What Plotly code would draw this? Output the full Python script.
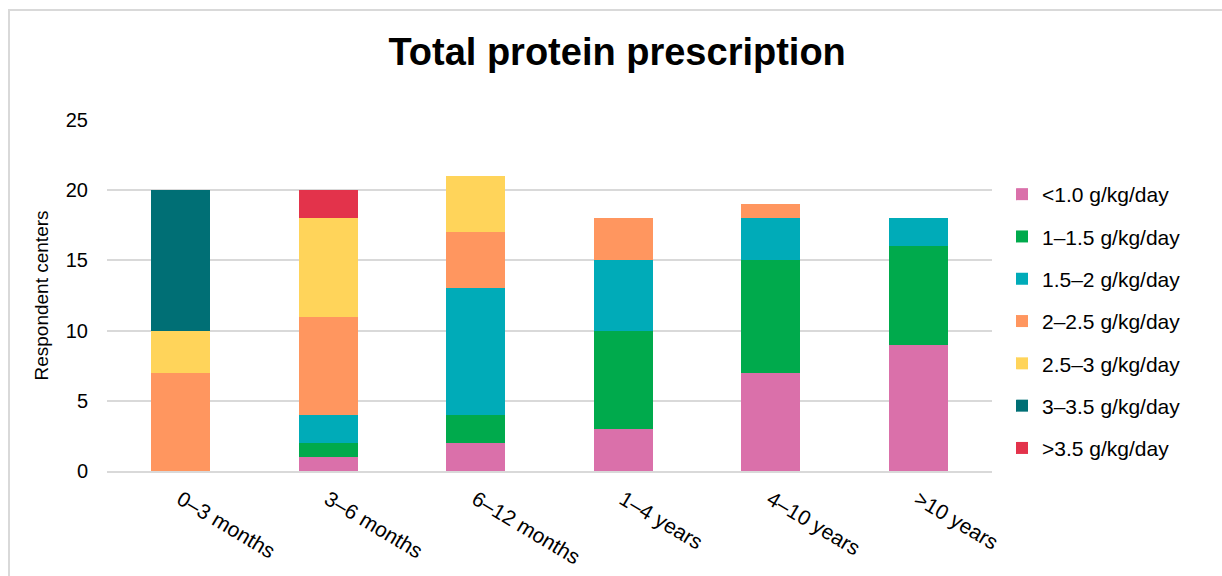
import plotly.graph_objects as go

# Age groups on the x axis
age_groups = ["0–3 months", "3–6 months", "6–12 months", "1–4 years", "4–10 years", ">10 years"]

# Number of respondent centers per prescribed protein range
lt_1_0 = [0, 1, 2, 3, 7, 9]
r1_1_5 = [0, 1, 2, 7, 8, 7]
r1_5_2 = [0, 2, 9, 5, 3, 2]
r2_2_5 = [7, 7, 4, 3, 1, 0]
r2_5_3 = [3, 7, 4, 0, 0, 0]
r3_3_5 = [10, 0, 0, 0, 0, 0]
gt_3_5 = [0, 2, 0, 0, 0, 0]

series_names = ["<1.0 g/kg/day", "1–1.5 g/kg/day", "1.5–2 g/kg/day", "2–2.5 g/kg/day",
                "2.5–3 g/kg/day", "3–3.5 g/kg/day", ">3.5 g/kg/day"]
series_values = [lt_1_0, r1_1_5, r1_5_2, r2_2_5, r2_5_3, r3_3_5, gt_3_5]
series_colors = ["#DA70AA", "#00AA4C", "#00ABB8", "#FF965F", "#FFD45A", "#006F75", "#E3334B"]

FONT = "Liberation Sans, Arial, sans-serif"

fig = go.Figure()
for name, vals, color in zip(series_names, series_values, series_colors):
    fig.add_trace(go.Bar(
        x=age_groups, y=vals, name=name, legendgroup=name,
        marker=dict(color=color, line=dict(width=0)),
    ))

# Plot area in pixels
L, R, T, B = 107, 230, 120, 105
W, H = 1222, 576
pw, ph = W - L - R, H - T - B

fig.update_layout(
    width=W, height=H,
    barmode="stack", bargap=0.6,
    margin=dict(l=L, r=R, t=T, b=B, autoexpand=False),
    paper_bgcolor="white", plot_bgcolor="white",
    font=dict(family=FONT, color="#000000"),
    title=dict(text="<b>Total protein prescription</b>", x=0.505, xanchor="center",
               y=1 - 52 / H, yanchor="middle",
               font=dict(size=38, family=FONT, color="#000000")),
    xaxis=dict(tickangle=31, tickfont=dict(size=21), showgrid=False, automargin=False,
               showline=True, linecolor="#D9D9D9", linewidth=2, ticks="",
               ticklabelstandoff=6),
    yaxis=dict(range=[0, 25], dtick=5, tickfont=dict(size=20), gridcolor="#D9D9D9",
               gridwidth=2, zeroline=False, showline=False, ticks="", ticklen=0,
               ticklabelstandoff=18, automargin=False,
               title=dict(text="Respondent centers", font=dict(size=19), standoff=12)),
    legend=dict(x=1 + (1002 - L - pw) / pw, xanchor="left", y=1 - (174 - T) / ph, yanchor="top",
                font=dict(size=21), tracegroupgap=12, itemsizing="constant",
                traceorder="grouped", itemwidth=30),
    showlegend=True,
)

# Light frame around the chart
fig.add_shape(type="rect", xref="paper", yref="paper",
              x0=(9 - L) / pw, x1=(W + 20 - L) / pw,
              y0=-(B + 20) / ph, y1=1 + (T - 10) / ph,
              line=dict(color="#D9D9D9", width=2), fillcolor="rgba(0,0,0,0)", layer="below")

fig.write_html("out.html")
